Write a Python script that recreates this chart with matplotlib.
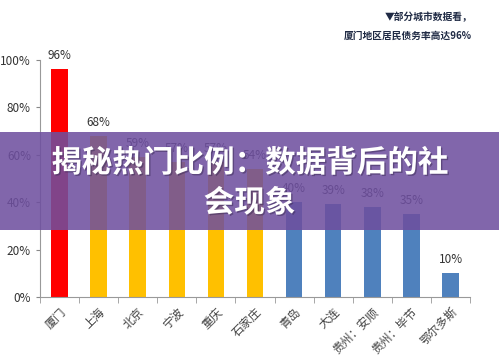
import matplotlib
matplotlib.use("Agg")
import matplotlib.pyplot as plt
from matplotlib.patches import Rectangle
import matplotlib.patheffects as pe
from matplotlib.ticker import FuncFormatter, FixedLocator

plt.rcParams['font.family'] = ['Noto Sans CJK SC', 'DejaVu Sans']

cities = ['厦门', '上海', '北京', '宁波', '重庆', '石家庄', '青岛', '大连', '贵州：安顺', '贵州：毕节', '鄂尔多斯']
values = [96, 68, 59, 57, 57, 54, 40, 39, 38, 35, 10]
colors = ['#FF0000'] + ['#FFC000'] * 5 + ['#4F81BD'] * 5
yticks = [0, 20, 40, 60, 80, 100]
note_lines = ['▼部分城市数据看，', '厦门地区居民债务率高达96%']
banner_lines = ['揭秘热门比例：数据背后的社', '会现象']

fig = plt.figure(figsize=(4.99, 3.63), dpi=100)
ax = fig.add_axes([0.080, 0.182, 0.862, 0.653])

x = list(range(len(cities)))
ax.bar(x, values, width=0.42, color=colors, zorder=2)
for xi, v in zip(x, values):
    ax.text(xi, v + 3, f'{v}%', ha='center', va='bottom', fontsize=8.5, color='#333333')

ax.set_xlim(-0.5, len(cities) - 0.5)
ax.set_ylim(0, 100)
ax.set_yticks(yticks)
ax.yaxis.set_major_formatter(FuncFormatter(lambda v, p: f'{int(v)}%'))
ax.tick_params(axis='y', labelsize=8.5, colors='#888888', labelcolor='#333333', length=3)
ax.set_xticks(x)
ax.set_xticklabels(cities, rotation=45, ha='right', rotation_mode='anchor', fontsize=8.5, color='#444444')
ax.tick_params(axis='x', length=0, pad=6)
ax.xaxis.set_minor_locator(FixedLocator([i - 0.5 for i in range(len(cities) + 1)]))
ax.tick_params(axis='x', which='minor', length=4, color='#999999')
for s in ['top', 'right']:
    ax.spines[s].set_visible(False)
ax.spines['left'].set_color('#999999')
ax.spines['bottom'].set_color('#999999')

fig.text(0.946, 1 - 17 / 363, note_lines[0], ha='right', va='center', fontsize=7, fontweight='bold', color='#1F2A44')
fig.text(0.946, 1 - 36 / 363, note_lines[1], ha='right', va='center', fontsize=7, fontweight='bold', color='#1F2A44')

fig.patches.append(Rectangle((0, 1 - 230 / 363), 1, 98 / 363, transform=fig.transFigure,
                             facecolor='#6E4F9F', alpha=0.87, edgecolor='none', zorder=5))
shadow = [pe.withSimplePatchShadow(offset=(1, -1), shadow_rgbFace='#3a2a55', alpha=0.5)]
fig.text(0.5, 1 - 163 / 363, banner_lines[0], ha='center', va='center', fontsize=22, fontweight='bold',
         color='white', zorder=6, path_effects=shadow)
fig.text(0.5, 1 - 203 / 363, banner_lines[1], ha='center', va='center', fontsize=22, fontweight='bold',
         color='white', zorder=6, path_effects=shadow)

fig.savefig('out.png', dpi=100)
